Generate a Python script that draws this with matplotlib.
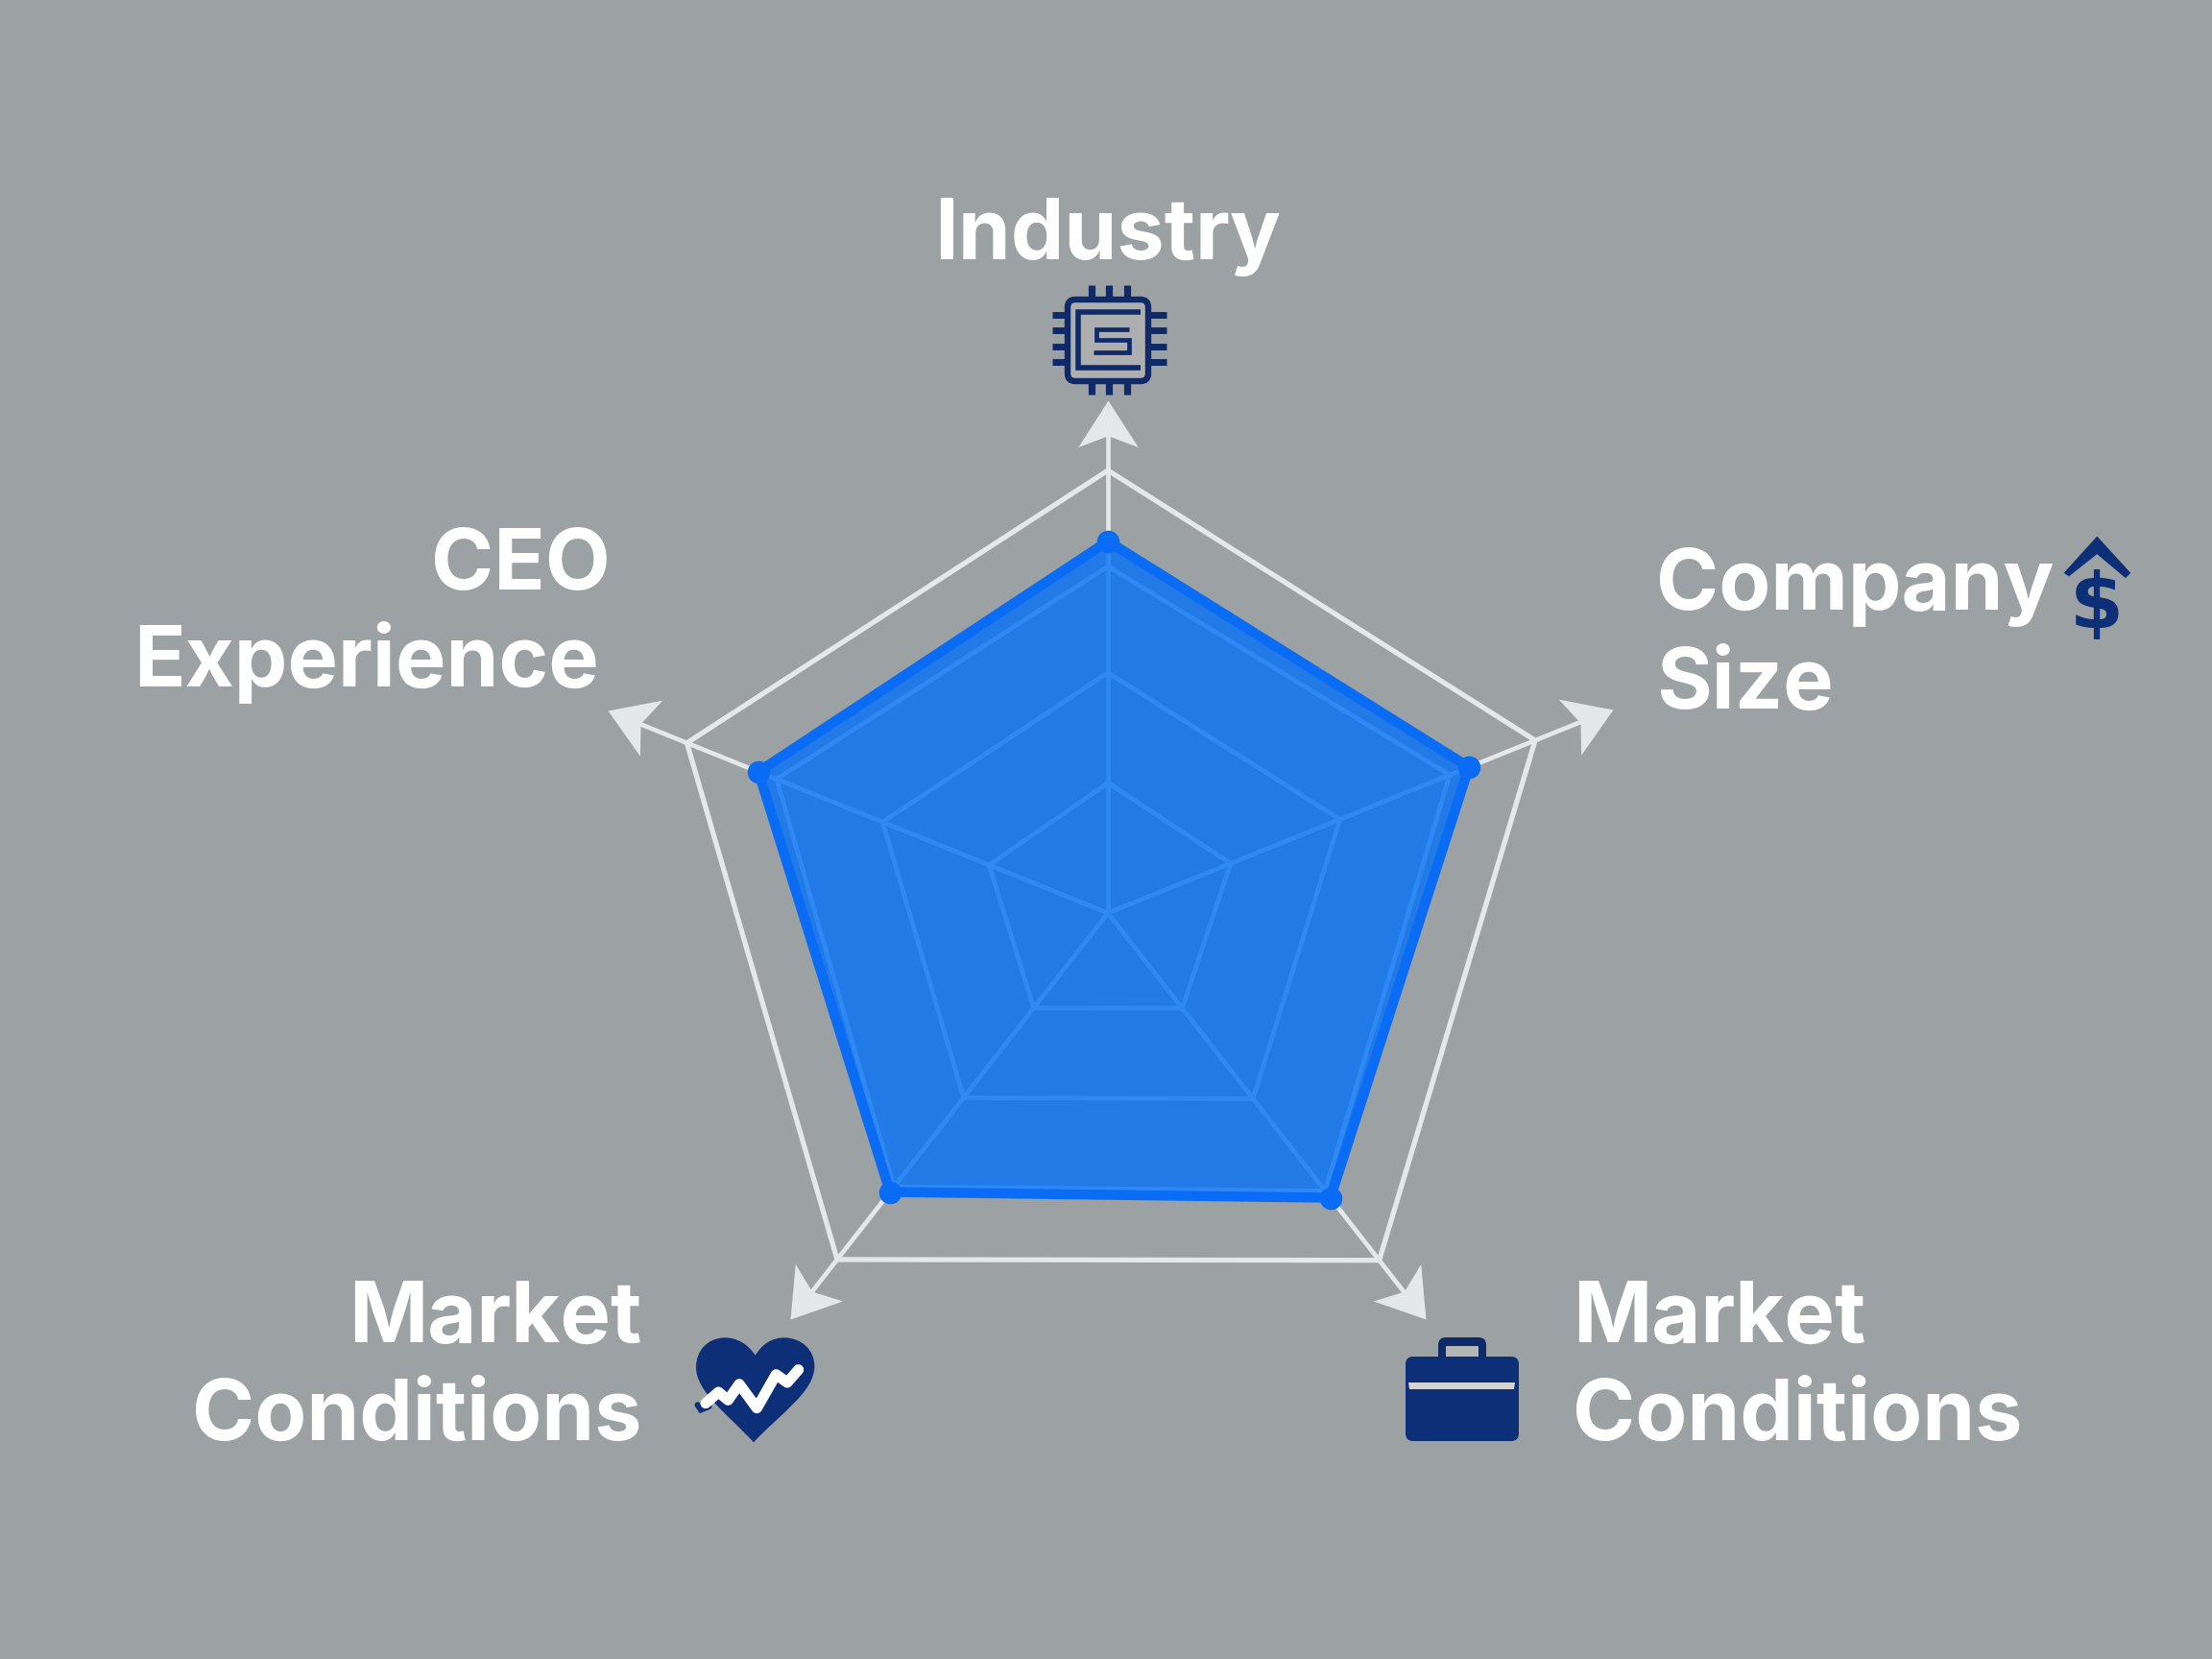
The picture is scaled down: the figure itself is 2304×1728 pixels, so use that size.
import numpy as np
import matplotlib
matplotlib.use('Agg')
import matplotlib.pyplot as plt
from matplotlib.markers import MarkerStyle
from matplotlib.path import Path
from matplotlib.patches import PathPatch, FancyBboxPatch, Polygon
from matplotlib.transforms import Affine2D

# axes of the radar, clockwise from the top
categories = ['Industry', 'Company Size', 'Market Conditions', 'Market Conditions', 'CEO Experience']
axis_angle = [90, 22, -52, -128, 158]
axis_length = [461, 480, 459, 458, 473]
arrow_reach = [534, 567, 537, 537, 562]

# rings are slightly uneven in the picture, so one value per axis
ring_1 = [29.4, 28.7, 27.4, 27.4, 28.2]
ring_2 = [54.3, 54.3, 53.5, 53.3, 53.5]
ring_3 = [78.3, 80, 80, 79, 78.7]
ring_4 = [100, 100, 100, 100, 100]
values = [84, 84.5, 82, 80.5, 83]

BG = '#9ca1a4'
LINE = '#e4e8ea'
FILL = '#0271f7'
EDGE = '#0a6cf5'
NAVY = '#0f2a66'
NAVY2 = '#0d2f78'
FONT = 'Inter'

W, H = 2304, 1728
CX, CY, R = 1154, 951, 700

fig = plt.figure(figsize=(W / 100, H / 100), dpi=100, facecolor=BG)

# radar in a polar axes
ax = fig.add_axes([(CX - R) / W, 1 - (CY + R) / H, 2 * R / W, 2 * R / H], projection='polar')
ax.set_axis_off()
ax.set_ylim(0, R)

theta = np.radians(axis_angle)
lengths = np.array(axis_length)


def closed(a):
    return np.append(a, a[0])


for ring, lw in [(ring_1, 3.4), (ring_2, 3.4), (ring_3, 3.4), (ring_4, 3.8)]:
    ax.plot(closed(theta), closed(lengths * np.array(ring) / 100), color=LINE, lw=lw, zorder=2)

# arrow head as a notched marker with its tip at the origin
head = Path([(0, 0), (-45, 29), (-34, 0), (-45, -29), (0, 0)], closed=True)
for t, a, tip in zip(theta, axis_angle, arrow_reach):
    ax.plot([t, t], [0, tip - 30], color=LINE, lw=3.4, zorder=2)
    ax.plot([t], [tip], color=LINE, ms=70, mew=0, zorder=2,
            marker=MarkerStyle(head, transform=Affine2D().rotate_deg(a)))

r = lengths * np.array(values) / 100
ax.fill(closed(theta), closed(r), color=FILL, alpha=0.8, lw=0, zorder=3)
ax.plot(closed(theta), closed(r), color=EDGE, lw=7.5, zorder=4, solid_joinstyle='round')
ax.plot(theta, r, 'o', color=EDGE, ms=17, mew=0, zorder=5)

# labels and icons in image pixels
ov = fig.add_axes([0, 0, 1, 1], facecolor='none')
ov.set_xlim(0, W)
ov.set_ylim(H, 0)
ov.set_axis_off()
ov.set_zorder(5)


def label(x, y, s, ha='left'):
    ov.text(x, y, s, color='white', fontsize=63.5, fontweight='bold', family=[FONT, 'DejaVu Sans'],
            ha=ha, va='baseline')


label(1154, 270, 'Industry', 'center')
label(1725, 635, 'Company')
label(1725, 738, 'Size')
label(636, 614, 'CEO', 'right')
label(624, 715, 'Experience', 'right')
label(668, 1398, 'Market', 'right')
label(668, 1500, 'Conditions', 'right')
label(1638, 1398, 'Market')
label(1638, 1500, 'Conditions')


def stroke(xs, ys, color=NAVY, lw=4.0, cap='butt'):
    ov.plot(xs, ys, color=color, lw=lw, solid_capstyle=cap, solid_joinstyle='miter')


def round_box(x0, y0, x1, y1, pad, fc, ec='none', lw=0):
    ov.add_patch(FancyBboxPatch((x0 + pad, y0 + pad), x1 - x0 - 2 * pad, y1 - y0 - 2 * pad,
                                boxstyle=f'round,pad={pad}', fc=fc, ec=ec, lw=lw))


# chip icon
round_box(1112, 312, 1196, 397, 8, '#acaeaf', NAVY, 4.6)
for px in [1137, 1155, 1174]:
    stroke([px, px], [297, 310], lw=5.2)
    stroke([px, px], [399, 411], lw=5.2)
for py in [328, 344, 361, 377]:
    stroke([1096, 1113], [py, py], lw=5.0)
    stroke([1198, 1215], [py, py], lw=5.0)
stroke([1188, 1123, 1123, 1188], [325, 325, 383, 383], lw=4.0)
stroke([1176, 1142, 1142, 1176, 1176, 1139], [343, 343, 354, 354, 367, 367], lw=3.4)

# arrow and dollar icon
chevron = np.array([[1412, 108], [1510, 215], [1495, 230], [1412, 160], [1330, 225], [1315, 215]])
ov.add_patch(Polygon(chevron / 2.8 + [1680, 520], fc=NAVY2, ec='none'))
ov.text(2184, 632, '$', color=NAVY2, fontsize=58, fontweight='bold', family='DejaVu Sans',
        ha='center', va='center')
stroke([2184, 2184], [598, 616], color='#c8ccd0', lw=2.2)
stroke([2178, 2190], [628, 630], color='#d8dadc', lw=5, cap='round')

# heart icon
heart_verts = np.array([[320, 335], [295, 298], [262, 280], [225, 280],
                        [172, 280], [135, 320], [135, 372],
                        [135, 450], [235, 520], [315, 607],
                        [395, 520], [505, 450], [505, 370],
                        [505, 318], [465, 280], [410, 280],
                        [372, 280], [342, 300], [320, 335]]) / 3 + [680, 1300]
heart_codes = [Path.MOVETO] + [Path.CURVE4] * 18
ov.add_patch(PathPatch(Path(heart_verts, heart_codes), fc=NAVY2, ec='none'))
pulse_x = np.array([165, 205, 235, 270, 325, 385, 420, 455]) / 3 + 680
pulse_y = np.array([485, 450, 475, 425, 500, 395, 420, 380]) / 3 + 1300
stroke(np.array([140, 150, 175]) / 3 + 680, np.array([490, 505, 495]) / 3 + 1300, color=NAVY2, lw=4.5, cap='round')
ov.plot(pulse_x, pulse_y, color='white', lw=8, solid_capstyle='round', solid_joinstyle='round')

# briefcase icon
round_box(1498, 1393, 1548, 1425, 8, NAVY)
round_box(1506, 1402, 1540, 1425, 1, '#b4b5b7')
round_box(1464, 1413, 1582, 1501, 8, NAVY2)
ov.add_patch(Polygon([[1467, 1440], [1578, 1440], [1577, 1447], [1468, 1447]], fc='#d2d3d4', ec='none'))

fig.savefig('out.png', dpi=100, facecolor=BG)
